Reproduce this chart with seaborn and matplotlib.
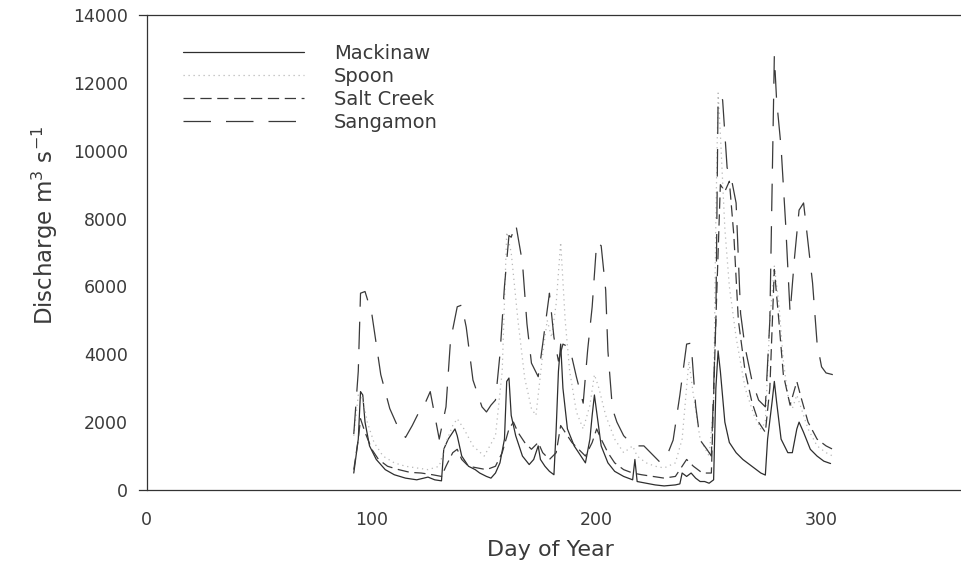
import numpy as np
import pandas as pd
import matplotlib
matplotlib.use("Agg")
import matplotlib.pyplot as plt
import seaborn as sns

# ---- data ----
mack_day = [92, 94, 95, 96, 97, 99, 102, 106, 110, 115, 120, 125, 128, 131, 132, 134, 136, 137, 138, 140,
            143, 146, 148, 151, 153, 155, 157, 159, 160, 161, 162, 164, 167, 170, 172, 174, 175, 177, 179, 181,
            182, 183, 184, 185, 187, 190, 193, 195, 197, 198, 199, 200, 202, 205, 208, 212, 216, 217, 218, 222,
            226, 230, 235, 237, 238, 240, 242, 244, 246, 248, 250, 252, 253, 254, 255, 257, 259, 262, 265, 267,
            270, 273, 275, 276, 278, 279, 280, 282, 285, 287, 289, 290, 292, 295, 298, 301, 304]
mack_q = [500, 1500, 2900, 2800, 2000, 1300, 900, 600, 450, 350, 300, 380, 300, 270, 1200, 1500, 1700, 1800, 1600, 1000,
          700, 600, 500, 400, 350, 500, 800, 1500, 3200, 3300, 2200, 1600, 1000, 750, 900, 1300, 900, 700, 550, 450,
          1800, 3500, 4300, 3000, 1800, 1300, 1000, 800, 1500, 2200, 2800, 2300, 1300, 800, 550, 400, 300, 900, 250, 200,
          150, 120, 150, 180, 500, 400, 500, 350, 250, 250, 200, 300, 3000, 4100, 3500, 2000, 1400, 1100, 900, 800,
          650, 500, 440, 1500, 2600, 3200, 2600, 1500, 1100, 1100, 1800, 2000, 1700, 1200, 1000, 850, 780]

spoon_day = [92, 94, 96, 98, 101, 105, 110, 115, 120, 125, 130, 133, 136, 138, 141, 145, 150, 155, 158, 160,
             162, 165, 168, 171, 173, 176, 178, 180, 182, 184, 186, 188, 191, 194, 197, 199, 201, 204, 208, 212,
             216, 218, 222, 226, 230, 235, 238, 241, 243, 246, 250, 252, 253, 254, 255, 257, 259, 262, 266, 270,
             273, 275, 277, 279, 281, 283, 285, 287, 289, 291, 294, 298, 302, 305]
spoon_q = [1600, 2800, 2700, 2000, 1400, 1000, 800, 700, 650, 600, 700, 1400, 1900, 2100, 1800, 1300, 1000, 1600, 3500, 7600,
           7000, 5000, 3300, 2400, 2200, 4000, 5000, 4500, 5500, 7300, 5000, 3500, 2300, 1800, 2500, 3400, 3000, 2200, 1500, 1100,
           1300, 1000, 800, 700, 650, 800, 1500, 3800, 2800, 1500, 1000, 2500, 8000, 11700, 10500, 7700, 6000, 4500, 3000, 2200,
           1800, 2000, 5000, 6600, 5500, 3800, 2800, 2400, 2800, 2400, 1800, 1300, 1100, 1000]

salt_day = [92, 94, 95, 97, 100, 103, 107, 112, 117, 122, 127, 131, 133, 136, 138, 140, 143, 147, 151, 155,
            158, 161, 163, 165, 168, 171, 174, 176, 179, 182, 184, 186, 189, 192, 195, 198, 200, 202, 205, 208,
            212, 216, 220, 225, 230, 235, 238, 240, 243, 247, 251, 253, 255, 257, 259, 261, 263, 266, 269, 272,
            275, 277, 279, 281, 283, 286, 289, 291, 294, 298, 302, 305]
salt_q = [600, 1500, 2100, 1700, 1200, 900, 700, 600, 520, 500, 450, 400, 700, 1100, 1200, 900, 700, 650, 600, 700,
          1100, 1800, 2000, 1700, 1400, 1200, 1400, 1100, 900, 1100, 1900, 1700, 1400, 1200, 1000, 1400, 1800, 1500, 1100, 800,
          600, 500, 450, 400, 350, 400, 700, 900, 700, 500, 500, 5000, 9000, 8800, 9100, 7500, 5000, 3500, 2600, 2000,
          1700, 3000, 6500, 5000, 3400, 2500, 3200, 2700, 2000, 1500, 1300, 1200]

sang_day = [92, 94, 95, 97, 100, 104, 108, 112, 115, 118, 121, 124, 126, 128, 130, 133, 135, 138, 140, 142,
            145, 149, 151, 153, 155, 157, 159, 161, 162, 164, 167, 169, 171, 174, 176, 178, 179, 181, 183, 185,
            188, 191, 194, 196, 198, 200, 202, 204, 205, 207, 209, 212, 215, 218, 221, 228, 231, 234, 237, 240,
            242, 244, 246, 249, 251, 253, 254, 256, 258, 260, 262, 264, 266, 269, 272, 275, 277, 279, 280, 282,
            284, 286, 288, 290, 292, 294, 296, 298, 300, 302, 305]
sang_q = [1650, 3500, 5800, 5850, 5200, 3400, 2400, 1800, 1550, 1900, 2300, 2600, 2900, 2200, 1500, 2450, 4400, 5400, 5450, 4800,
          3240, 2450, 2300, 2500, 2650, 4000, 6000, 7500, 7450, 7850, 6700, 4900, 3740, 3340, 4300, 5300, 5800, 4500, 3800, 4300,
          4200, 3330, 2560, 4130, 5400, 7300, 7200, 5900, 4100, 2400, 2000, 1600, 1400, 1300, 1300, 830, 970, 1470, 2800, 4300,
          4330, 2500, 1470, 1200, 1000, 5000, 11600, 11500, 9500, 9140, 8460, 5200, 4200, 3240, 2650, 2450, 5000, 12800, 11500, 10100,
          7870, 5220, 6870, 8250, 8460, 7280, 6100, 4330, 3630, 3450, 3400]

labels = ["Mackinaw", "Spoon", "Salt Creek", "Sangamon"]
x_ticks = [0, 100, 200, 300]
y_ticks = [0, 2000, 4000, 6000, 8000, 10000, 12000, 14000]

# ---- plotting ----
sns.set_style("white")
plt.rcParams["font.family"] = ["DejaVu Sans"]

W, H = 961, 573
fig = plt.figure(figsize=(W / 100, H / 100), dpi=100)
ax = fig.add_axes([139 / W, 1 - 490 / H, (W - 139) / W, (490 - 15) / H])

series = [
    (mack_day, mack_q, labels[0], dict(color="#2e2e2e", linestyle="-", linewidth=0.9)),
    (spoon_day, spoon_q, labels[1], dict(color="#b8b8b8", linestyle=(0, (1, 3)), linewidth=0.9)),
    (salt_day, salt_q, labels[2], dict(color="#3a3a3a", linestyle=(0, (9, 4.5)), linewidth=0.9)),
    (sang_day, sang_q, labels[3], dict(color="#3a3a3a", linestyle=(0, (22, 12)), linewidth=0.9)),
]
for d, q, lab, st in series:
    df = pd.DataFrame({"day": d, "q": q})
    sns.lineplot(data=df, x="day", y="q", ax=ax, label=lab, **st)

ax.set_xlim(-3.5, 362)
ax.set_ylim(0, 14000)
ax.spines["left"].set_position(("data", 0))
ax.spines["right"].set_visible(False)
for s in ["left", "bottom", "top"]:
    ax.spines[s].set_color("#333333")
    ax.spines[s].set_linewidth(0.9)

ax.set_xticks(x_ticks)
ax.set_yticks(y_ticks)
ax.tick_params(axis="both", direction="out", length=4, width=0.8, color="#333333",
               labelsize=12.5, labelcolor="#3a3a3a")
ax.tick_params(axis="x", pad=11)
ax.tick_params(axis="y", pad=9.5)

ax.set_xlabel("Day of Year", fontsize=16, color="#3a3a3a")
ax.set_ylabel("Discharge m$^3$ s$^{-1}$", fontsize=16.5, color="#3a3a3a")
ax.xaxis.set_label_coords(0.5, (490 - 550) / 475)
ax.xaxis.label.set(va="center", ha="center")
ax.yaxis.set_label_coords((45 - 139) / 822, (490 - 225) / 475)
ax.yaxis.label.set(va="center", ha="center")

leg = ax.legend(loc="upper left", bbox_to_anchor=(183 / W, 1 - 44 / H),
                bbox_transform=fig.transFigure, frameon=False, fontsize=14,
                handlelength=6.2, handletextpad=1.55, labelspacing=0.2,
                borderpad=0, borderaxespad=0)
for t in leg.get_texts():
    t.set_color("#3a3a3a")

fig.savefig("out.png", dpi=100)
